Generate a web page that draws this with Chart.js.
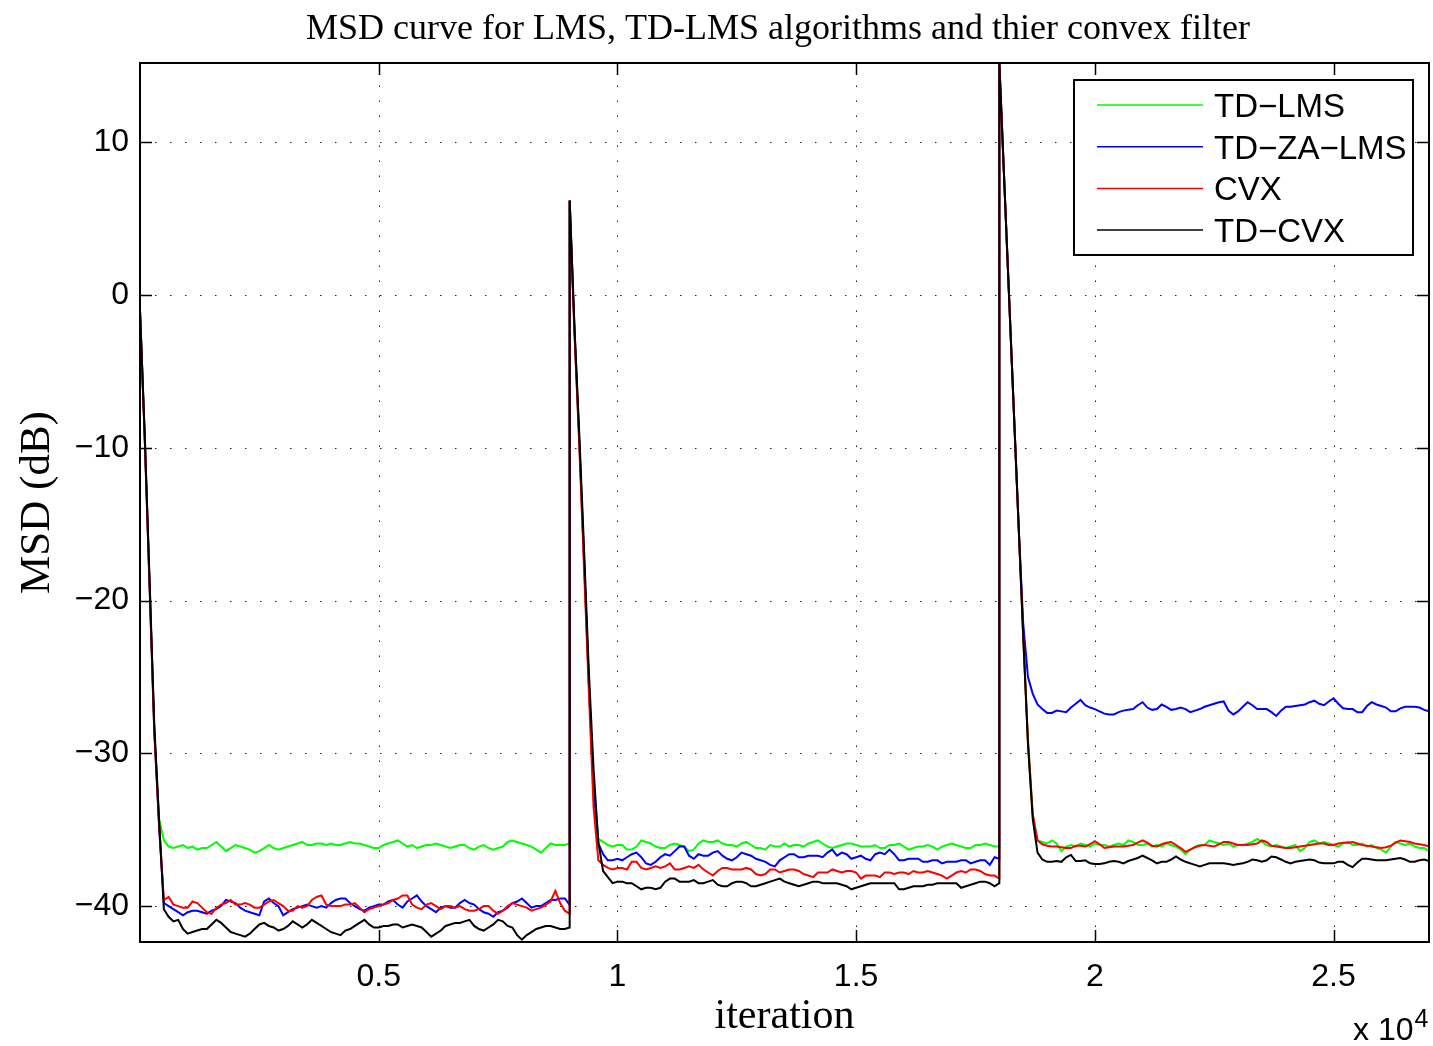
<!DOCTYPE html>
<html>
<head>
    <title>MSD curve</title>
    <script src="https://cdn.jsdelivr.net/npm/chart.js"></script>
    <style>
        body { margin: 0; background: #fff; }
        canvas { display: block; }
    </style>
</head>
<body>
    <canvas id="grafico" width="1433" height="1046"></canvas>

    <script>
        // iteration grid: every 100 samples, plus the last sample before each restart
        const iterSeg1 = [], iterSeg2 = [], iterSeg3 = [];
        for (let i = 0; i <= 8900; i += 100) iterSeg1.push(i);
        iterSeg1.push(8995);
        for (let i = 9000; i <= 17900; i += 100) iterSeg2.push(i);
        iterSeg2.push(17995);
        for (let i = 18000; i <= 27000; i += 100) iterSeg3.push(i);

        const seriesLabels = ['TD\u2212LMS', 'TD\u2212ZA\u2212LMS', 'CVX', 'TD\u2212CVX'];
        const seriesColors = ['#00ff00', '#0000ff', '#ff0000', '#000000'];

        // MSD (dB)
        const tdLms1 = [
            -1.0, -9.4, -18.9, -28.5, -34.3, -35.7, -36.1, -36.2, -36.1, -36.0,
            -36.2, -36.1, -36.3, -36.2, -36.2, -36.0, -35.8, -36.1, -36.4, -36.2,
            -36.0, -36.1, -36.2, -36.3, -36.5, -36.4, -36.2, -36.0, -36.2, -36.3,
            -36.2, -36.1, -36.0, -35.9, -35.8, -36.0, -36.0, -35.9, -35.9, -36.0,
            -35.9, -36.0, -36.0, -35.9, -35.8, -35.9, -35.9, -36.0, -36.1, -36.2,
            -36.2, -36.0, -35.9, -35.8, -35.7, -35.9, -36.1, -36.0, -36.2, -36.1,
            -36.0, -36.0, -35.9, -36.0, -36.1, -36.2, -36.1, -36.0, -36.0, -36.2,
            -36.3, -36.1, -36.0, -36.2, -36.3, -36.2, -36.1, -35.8, -35.7, -35.8,
            -35.9, -36.0, -36.1, -36.3, -36.5, -36.2, -35.9, -36.0, -36.0, -36.0,
            -35.9
        ];
        const tdLms2 = [
            6.2, -2.2, -9.4, -17.2, -25.2, -32.3, -35.6, -35.8, -36.0, -36.1,
            -36.0, -36.0, -36.3, -36.3, -36.1, -35.7, -35.8, -35.9, -36.1, -36.2,
            -36.2, -36.0, -35.9, -36.0, -36.1, -36.4, -36.3, -35.9, -35.7, -35.8,
            -35.8, -35.7, -35.9, -36.0, -36.0, -36.1, -35.9, -35.8, -36.0, -36.2,
            -36.2, -36.3, -36.0, -36.1, -36.1, -35.9, -36.1, -36.0, -36.0, -36.1,
            -35.9, -35.8, -35.7, -35.9, -36.1, -36.2, -36.1, -36.0, -35.9, -35.9,
            -36.0, -36.1, -36.1, -36.1, -36.0, -36.2, -36.2, -36.0, -36.0, -35.9,
            -36.1, -36.3, -36.2, -36.1, -36.1, -36.0, -36.1, -36.3, -36.1, -36.0,
            -35.9, -36.0, -36.1, -36.2, -36.2, -36.0, -36.0, -35.9, -36.0, -36.1,
            -36.1
        ];
        const tdLms3 = [
            15.2, 7.7, 0.2, -7.3, -14.8, -22.3, -29.2, -34.0, -35.7, -35.8,
            -35.9, -35.7, -35.9, -36.4, -36.1, -36.0, -36.1, -35.9, -36.0, -36.1,
            -35.9, -36.0, -36.0, -36.1, -36.0, -35.9, -36.0, -35.7, -35.8, -36.0,
            -36.0, -35.9, -36.1, -36.0, -36.1, -35.9, -36.0, -36.1, -36.3, -36.6,
            -36.3, -36.1, -36.0, -36.0, -35.7, -35.8, -35.9, -36.0, -35.9, -36.1,
            -36.0, -36.0, -35.9, -35.8, -35.6, -35.8, -36.0, -36.1, -36.0, -36.1,
            -36.2, -36.1, -36.0, -36.4, -36.2, -35.8, -35.7, -35.9, -35.8, -35.9,
            -36.0, -36.1, -35.9, -35.8, -36.0, -36.0, -35.9, -36.1, -36.0, -36.2,
            -36.3, -36.5, -36.1, -35.8, -35.9, -36.0, -35.9, -36.1, -36.2, -36.2,
            -36.4
        ];

        const tdZaLms1 = [
            -1.0, -9.4, -18.9, -28.5, -34.8, -39.8, -40.0, -40.2, -40.4, -40.6,
            -40.4, -40.3, -40.3, -40.4, -40.5, -40.3, -40.2, -40.0, -39.6, -39.7,
            -39.8, -40.1, -40.3, -40.4, -40.5, -40.6, -39.7, -39.5, -39.8, -40.0,
            -40.6, -40.4, -40.2, -40.1, -40.0, -39.9, -40.0, -40.1, -40.0, -40.1,
            -39.8, -39.6, -39.5, -39.5, -39.8, -40.0, -40.2, -40.3, -40.1, -40.0,
            -39.9, -39.9, -39.7, -39.6, -39.9, -40.1, -39.7, -39.5, -39.3, -39.7,
            -40.0, -40.2, -40.4, -40.1, -40.0, -40.1, -40.1, -39.8, -39.6, -39.8,
            -39.9, -40.2, -40.4, -40.5, -40.7, -40.4, -40.3, -40.1, -39.8, -39.7,
            -39.5, -39.8, -40.1, -40.0, -40.0, -39.8, -39.6, -39.6, -39.5, -39.5,
            -39.9
        ];
        const tdZaLms2 = [
            6.2, -2.2, -9.4, -17.2, -25.2, -32.3, -35.9, -36.6, -37.0, -37.0,
            -36.9, -37.0, -36.8, -36.6, -36.5, -36.8, -37.2, -37.3, -37.1, -36.8,
            -36.6, -36.7, -36.4, -36.1, -36.1, -36.7, -36.9, -36.6, -36.7, -36.7,
            -36.5, -36.4, -36.7, -36.9, -37.0, -36.8, -36.5, -36.6, -36.7, -36.9,
            -37.0, -37.1, -37.3, -37.4, -37.0, -36.8, -36.6, -36.6, -36.8, -36.8,
            -36.7, -36.7, -36.7, -36.8, -36.5, -36.3, -36.7, -36.5, -36.6, -36.9,
            -36.8, -36.7, -36.9, -37.0, -36.6, -36.5, -36.6, -36.3, -36.6, -37.0,
            -37.0, -36.9, -36.9, -36.9, -37.1, -37.1, -37.0, -37.0, -37.2, -37.1,
            -37.1, -37.1, -37.0, -37.0, -37.2, -37.1, -37.0, -37.0, -37.3, -36.8,
            -36.9
        ];
        const tdZaLms3 = [
            15.2, 7.7, 0.2, -7.3, -14.8, -21.5, -25.0, -26.1, -26.8, -27.1,
            -27.35, -27.35, -27.2, -27.25, -27.3, -27.0, -26.75, -26.5, -26.85, -27.0,
            -27.1, -27.25, -27.4, -27.45, -27.45, -27.3, -27.2, -27.15, -27.1, -26.85,
            -26.65, -27.0, -27.15, -27.1, -26.8, -26.95, -27.15, -27.1, -27.0, -27.1,
            -27.3, -27.2, -27.1, -26.95, -26.85, -26.75, -26.65, -26.6, -27.2, -27.45,
            -27.25, -26.95, -26.65, -26.85, -27.1, -27.1, -27.1, -27.3, -27.55, -27.2,
            -26.95, -26.95, -26.9, -26.85, -26.8, -26.65, -26.55, -26.75, -26.85, -26.6,
            -26.4, -26.75, -27.05, -27.1, -27.1, -27.3, -27.3, -26.9, -26.65, -26.8,
            -26.9, -27.0, -27.25, -27.25, -27.05, -26.95, -26.95, -26.95, -27.0, -27.15,
            -27.25
        ];

        const cvx1 = [
            -1.0, -9.5, -19.0, -28.7, -34.6, -39.6, -39.4, -39.9, -40.0, -40.1,
            -40.1, -39.7, -39.8, -40.1, -40.4, -40.5, -40.1, -39.9, -39.8, -39.6,
            -39.9, -39.9, -39.8, -39.9, -40.1, -40.1, -39.9, -39.7, -39.6, -39.8,
            -40.0, -40.3, -40.3, -40.0, -40.1, -40.0, -39.6, -39.4, -39.3, -39.9,
            -40.0, -40.0, -40.0, -39.9, -39.9, -39.8, -40.1, -40.4, -40.2, -40.1,
            -40.0, -39.9, -39.8, -39.6, -39.5, -39.3, -39.3, -39.9, -40.1, -40.2,
            -39.9, -39.8, -40.0, -40.2, -40.0, -40.0, -40.1, -40.0, -40.2, -40.3,
            -40.3, -40.2, -40.0, -40.0, -40.3, -40.5, -40.3, -40.0, -39.8, -39.9,
            -40.0, -40.1, -40.3, -40.2, -40.1, -39.9, -39.7, -39.0, -39.8, -40.3,
            -40.5
        ];
        const cvx2 = [
            6.2, -2.5, -9.7, -17.8, -25.8, -33.5, -37.0, -37.3, -37.5, -37.6,
            -37.5, -37.5, -37.6, -37.1, -37.1, -37.5, -37.6, -37.5, -37.4, -37.5,
            -37.4, -37.2, -37.6, -37.6, -37.5, -37.4, -37.5, -37.3, -37.6, -37.8,
            -38.0, -37.7, -37.5, -37.5, -37.6, -37.6, -37.6, -37.5, -37.6, -37.9,
            -38.0, -37.9, -37.6, -37.6, -37.8, -37.7, -37.6, -37.6, -37.7, -37.9,
            -38.0, -38.1, -37.8, -37.8, -37.8, -37.6, -37.7, -37.8, -37.7, -37.7,
            -37.8, -38.2, -38.0, -38.0, -38.0, -38.1, -37.8, -37.8, -37.9, -37.8,
            -37.8, -37.9, -37.7, -37.8, -37.8, -37.7, -37.8, -37.9, -38.0, -38.2,
            -38.0, -37.8, -37.7, -37.8, -37.6, -37.6, -37.7, -37.9, -38.0, -38.0,
            -38.2
        ];
        const cvx3 = [
            15.2, 7.7, 0.2, -7.3, -14.8, -22.3, -29.2, -34.0, -35.7, -35.95,
            -36.05, -36.1, -36.1, -36.15, -36.2, -36.2, -36.05, -36.05, -36.1, -35.95,
            -35.75, -35.95, -36.2, -36.15, -36.1, -36.1, -36.1, -36.05, -36.0, -35.85,
            -35.7, -35.85, -36.05, -36.1, -35.95, -35.85, -35.8, -36.0, -36.2, -36.45,
            -36.3, -36.15, -36.05, -36.0, -36.05, -36.1, -35.95, -35.8, -35.8, -35.9,
            -36.0, -36.0, -36.0, -35.95, -35.9, -35.7, -35.8, -36.05, -36.1, -36.15,
            -36.2, -36.2, -36.15, -36.1, -36.05, -36.0, -35.95, -35.9, -35.9, -36.0,
            -36.0, -35.9, -35.85, -35.85, -35.8, -35.9, -36.0, -36.05, -36.1, -36.15,
            -36.2, -36.15, -36.05, -35.85, -35.7, -35.75, -35.8, -35.9, -35.95, -36.0,
            -36.1
        ];

        const tdCvx1 = [
            -1.0, -9.2, -18.6, -28.2, -34.4, -40.2, -40.7, -41.0, -40.9, -41.5,
            -41.8, -41.7, -41.6, -41.5, -41.5, -41.2, -40.9, -41.1, -41.4, -41.7,
            -41.8, -41.9, -42.0, -41.8, -41.5, -41.2, -41.1, -41.3, -41.4, -41.6,
            -41.5, -41.3, -41.0, -41.2, -41.4, -41.2, -40.9, -41.1, -41.3, -41.5,
            -41.7, -41.8, -41.9, -41.6, -41.5, -41.3, -41.1, -40.9, -41.2, -41.4,
            -41.4, -41.3, -41.3, -41.2, -41.2, -41.4, -41.3, -41.2, -41.3, -41.4,
            -41.7, -42.0, -41.8, -41.6, -41.3, -41.2, -41.1, -41.1, -41.0, -40.9,
            -41.3, -41.5, -41.6, -41.4, -41.2, -40.9, -41.0, -41.3, -41.4, -41.9,
            -42.2, -41.9, -41.7, -41.5, -41.4, -41.3, -41.3, -41.4, -41.5, -41.5,
            -41.4
        ];
        const tdCvx2 = [
            6.2, -2.0, -9.0, -16.5, -24.5, -31.0, -35.8, -37.7, -38.1, -38.5,
            -38.4, -38.4, -38.5, -38.5, -38.7, -38.9, -38.8, -38.8, -38.9, -38.8,
            -38.4, -38.2, -38.2, -38.4, -38.4, -38.4, -38.3, -38.5, -38.5, -38.4,
            -38.3, -38.6, -38.7, -38.7, -38.5, -38.4, -38.4, -38.5, -38.7, -38.7,
            -38.6, -38.5, -38.4, -38.3, -38.2, -38.4, -38.5, -38.6, -38.7, -38.6,
            -38.5, -38.4, -38.4, -38.5, -38.5, -38.5, -38.5, -38.6, -38.7, -38.9,
            -38.8, -38.7, -38.6, -38.5, -38.5, -38.5, -38.5, -38.5, -38.5, -38.9,
            -38.9, -38.8, -38.7, -38.7, -38.7, -38.6, -38.6, -38.5, -38.5, -38.5,
            -38.5, -38.5, -38.8, -38.7, -38.6, -38.5, -38.4, -38.4, -38.5, -38.7,
            -38.5
        ];
        const tdCvx3 = [
            15.2, 7.7, 0.2, -7.3, -14.8, -22.3, -29.4, -34.3, -36.5, -36.95,
            -37.1, -37.1, -37.05, -37.1, -36.8, -36.65, -37.05, -37.05, -37.0, -37.2,
            -37.25, -37.25, -37.2, -37.1, -37.05, -37.1, -37.2, -37.05, -36.95, -36.85,
            -36.7, -36.85, -37.0, -37.2, -37.1, -37.1, -36.95, -36.75, -36.95, -37.1,
            -37.2, -37.3, -37.4, -37.3, -37.2, -37.2, -37.2, -37.2, -37.25, -37.3,
            -37.25, -37.2, -37.1, -36.95, -37.0, -37.1, -37.0, -36.75, -36.8, -36.95,
            -37.1, -37.2, -37.1, -37.05, -37.0, -36.95, -37.0, -37.15, -37.2, -37.2,
            -37.2, -37.1, -37.1, -37.3, -37.45, -37.15, -36.9, -36.9, -36.95, -37.0,
            -37.0, -37.0, -36.95, -36.9, -36.85, -36.95, -37.1, -37.1, -37.0, -36.95,
            -37.05
        ];

        const xTicks = [5000, 10000, 15000, 20000, 25000];
        const yTicks = [-40, -30, -20, -10, 0, 10];

        const iterations = [...iterSeg1, ...iterSeg2, ...iterSeg3];
        const seriesValues = [
            [...tdLms1, ...tdLms2, ...tdLms3],
            [...tdZaLms1, ...tdZaLms2, ...tdZaLms3],
            [...cvx1, ...cvx2, ...cvx3],
            [...tdCvx1, ...tdCvx2, ...tdCvx3]
        ];

        const sansFont = "'Liberation Sans', Arial, sans-serif";
        const serifFont = "'Liberation Serif', 'Times New Roman', serif";

        // grid, inward ticks, frame, legend, exponent and title, matlab style
        const matlabFrame = {
            id: 'matlabFrame',
            beforeDatasetsDraw(chart) {
                const { ctx, chartArea: a, scales: { x, y } } = chart;
                ctx.save();
                ctx.strokeStyle = '#222';
                ctx.lineWidth = 1;
                ctx.setLineDash([1.5, 13.5]);
                xTicks.forEach(v => {
                    const px = Math.round(x.getPixelForValue(v)) + 0.5;
                    ctx.beginPath(); ctx.moveTo(px, a.bottom); ctx.lineTo(px, a.top); ctx.stroke();
                });
                yTicks.forEach(v => {
                    const py = Math.round(y.getPixelForValue(v)) + 0.5;
                    ctx.beginPath(); ctx.moveTo(a.left, py); ctx.lineTo(a.right, py); ctx.stroke();
                });
                ctx.restore();
            },
            afterDatasetsDraw(chart) {
                const { ctx, chartArea: a, scales: { x, y } } = chart;
                const tick = 12;
                ctx.save();
                ctx.strokeStyle = '#000';
                ctx.lineWidth = 1.5;
                ctx.setLineDash([]);
                xTicks.forEach(v => {
                    const px = Math.round(x.getPixelForValue(v)) + 0.5;
                    ctx.beginPath();
                    ctx.moveTo(px, a.bottom); ctx.lineTo(px, a.bottom - tick);
                    ctx.moveTo(px, a.top); ctx.lineTo(px, a.top + tick);
                    ctx.stroke();
                });
                yTicks.forEach(v => {
                    const py = Math.round(y.getPixelForValue(v)) + 0.5;
                    ctx.beginPath();
                    ctx.moveTo(a.left, py); ctx.lineTo(a.left + tick, py);
                    ctx.moveTo(a.right, py); ctx.lineTo(a.right - tick, py);
                    ctx.stroke();
                });
                ctx.lineWidth = 2;
                ctx.strokeRect(a.left, a.top, a.right - a.left, a.bottom - a.top);

                // legend box
                const lx = a.right - 355, ly = a.top + 17, lw = 339, lh = 175;
                ctx.fillStyle = '#fff';
                ctx.fillRect(lx, ly, lw, lh);
                ctx.lineWidth = 2;
                ctx.strokeRect(lx, ly, lw, lh);
                ctx.font = '33px ' + sansFont;
                ctx.textAlign = 'left';
                ctx.textBaseline = 'alphabetic';
                seriesLabels.forEach((lab, i) => {
                    const cy = ly + 25 + i * 41.7;
                    ctx.strokeStyle = seriesColors[i];
                    ctx.lineWidth = 1.5;
                    ctx.beginPath(); ctx.moveTo(lx + 23, cy); ctx.lineTo(lx + 129, cy); ctx.stroke();
                    ctx.fillStyle = '#000';
                    ctx.fillText(lab, lx + 140, cy + 12);
                });

                // x 10^4 multiplier
                ctx.fillStyle = '#000';
                ctx.font = '32px ' + sansFont;
                ctx.fillText('x 10', 1353, 1040);
                const w = ctx.measureText('x 10').width;
                ctx.font = '25px ' + sansFont;
                ctx.fillText('4', 1353 + w + 1, 1027);

                // title
                ctx.font = '36px ' + serifFont;
                ctx.textAlign = 'center';
                ctx.fillText('MSD curve for LMS, TD-LMS algorithms and thier convex filter', 778, 39);
                ctx.restore();
            }
        };

        const ctx = document.getElementById('grafico').getContext('2d');
        const myChart = new Chart(ctx, {
            type: 'line',
            data: {
                datasets: seriesLabels.map((lab, i) => ({
                    label: lab,
                    data: iterations.map((it, k) => ({ x: it, y: seriesValues[i][k] })),
                    borderColor: seriesColors[i],
                    borderWidth: 2,
                    pointRadius: 0,
                    tension: 0,
                    order: 4 - i
                }))
            },
            options: {
                responsive: false,
                animation: false,
                devicePixelRatio: 1,
                layout: { padding: { top: 63, right: 4, left: 0, bottom: 0 } },
                scales: {
                    x: {
                        type: 'linear',
                        position: 'bottom',
                        min: 0,
                        max: 27000,
                        afterFit: s => { s.height = 104; },
                        afterBuildTicks: s => { s.ticks = xTicks.map(v => ({ value: v })); },
                        grid: { display: false, drawTicks: false },
                        border: { display: false },
                        ticks: {
                            padding: 16,
                            maxRotation: 0,
                            color: '#000',
                            font: { family: sansFont, size: 32 },
                            callback: v => String(v / 10000)
                        },
                        title: {
                            display: true,
                            text: 'iteration',
                            color: '#000',
                            font: { family: serifFont, size: 42 },
                            padding: { top: 0, bottom: 4 }
                        }
                    },
                    y: {
                        type: 'linear',
                        min: -42.35,
                        max: 15.2,
                        afterFit: s => { s.width = 140; },
                        afterBuildTicks: s => { s.ticks = yTicks.map(v => ({ value: v })); },
                        grid: { display: false, drawTicks: false },
                        border: { display: false },
                        ticks: {
                            padding: 11,
                            color: '#000',
                            font: { family: sansFont, size: 32 },
                            callback: v => (v < 0 ? '\u2212' + Math.abs(v) : String(v))
                        },
                        title: {
                            display: true,
                            text: 'MSD (dB)',
                            color: '#000',
                            font: { family: serifFont, size: 43 },
                            padding: { top: 12, bottom: 0 }
                        }
                    }
                },
                plugins: {
                    legend: { display: false },
                    title: { display: false },
                    tooltip: { enabled: false }
                }
            },
            plugins: [matlabFrame]
        });
    </script>
</body>
</html>
